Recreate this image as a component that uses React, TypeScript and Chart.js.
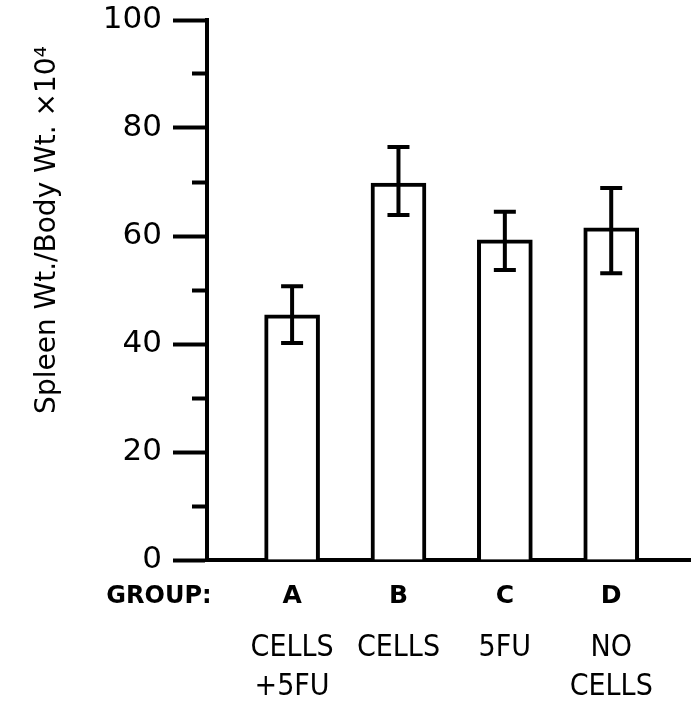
import React, { useEffect, useRef } from 'react';
import { Chart, registerables } from 'chart.js';

Chart.register(...registerables);

const groups = ['A', 'B', 'C', 'D'];
const treatments = [['CELLS', '+5FU'], ['CELLS'], ['5FU'], ['NO', 'CELLS']];
const means = [45.4, 69.8, 59.3, 61.5];
const errLow = [40.2, 63.9, 53.7, 53.1];
const errHigh = [50.7, 76.5, 64.5, 68.9];
const yMin = 0;
const yMax = 100;
const yStep = 10;
const yLabelStep = 20;
const groupLabel = 'GROUP:';
const yTitle = 'Spleen Wt./Body Wt. \u00d710\u2074';

const FONT = '"DejaVu Sans", sans-serif';
const FONT_COND = '"DejaVu Sans Condensed", "DejaVu Sans", sans-serif';

const errorBarPlugin = {
  id: 'errorBars',
  afterDatasetsDraw(chart: any) {
    const ctx = chart.ctx;
    const meta = chart.getDatasetMeta(0);
    const ys = chart.scales.y;
    ctx.save();
    ctx.strokeStyle = '#000';
    ctx.lineWidth = 4;
    ctx.lineCap = 'butt';
    meta.data.forEach((bar: any, i: number) => {
      const x = bar.x;
      const yl = ys.getPixelForValue(errLow[i]);
      const yh = ys.getPixelForValue(errHigh[i]);
      ctx.beginPath();
      ctx.moveTo(x, yl);
      ctx.lineTo(x, yh);
      ctx.moveTo(x - 11, yl);
      ctx.lineTo(x + 11, yl);
      ctx.moveTo(x - 11, yh);
      ctx.lineTo(x + 11, yh);
      ctx.stroke();
    });
    ctx.restore();
  },
};

const textPlugin = {
  id: 'extraText',
  afterDraw(chart: any) {
    const ctx = chart.ctx;
    const xs = chart.scales.x;
    const area = chart.chartArea;
    ctx.save();
    ctx.fillStyle = '#000';
    ctx.textAlign = 'center';
    ctx.textBaseline = 'middle';
    ctx.font = `bold 24px ${FONT}`;
    ctx.fillText(groupLabel, xs.left - 48, xs.top + 37);
    ctx.font = `28px ${FONT}`;
    ctx.translate(chart.scales.y.left + 48, (area.top + area.bottom) / 2 - 60);
    ctx.rotate(-Math.PI / 2);
    ctx.fillText(yTitle, 0, 0);
    ctx.restore();
  },
};

export default function App() {
  const ref = useRef<HTMLCanvasElement>(null);
  useEffect(() => {
    if (!ref.current) return;
    const positions = groups.map((_, i) => i + 1);
    const chart = new Chart(ref.current, {
      type: 'bar',
      data: {
        datasets: [
          {
            data: means.map((v, i) => ({ x: positions[i], y: v })),
            backgroundColor: '#fff',
            borderColor: '#000',
            borderWidth: 4,
            barThickness: 55,
          },
        ],
      },
      options: {
        animation: false,
        responsive: true,
        maintainAspectRatio: false,
        layout: { padding: { top: 20, left: 0, right: 0, bottom: 0 } },
        plugins: { legend: { display: false }, tooltip: { enabled: false } },
        scales: {
          x: {
            type: 'linear',
            position: 'bottom',
            offset: false,
            min: 0.2,
            max: 4.75,
            weight: 0,
            afterBuildTicks: (s: any) => {
              s.ticks = positions.map((v) => ({ value: v }));
            },
            afterFit: (s: any) => {
              s.height = 52;
            },
            grid: { display: true, offset: false, drawOnChartArea: false, drawTicks: false },
            border: { display: true, color: '#000', width: 4 },
            ticks: {
              autoSkip: false,
              maxRotation: 0,
              padding: 21,
              color: '#000',
              font: { family: FONT, size: 25, weight: 'bold', lineHeight: 1.2 },
              callback: (v: any) => groups[Math.round(v) - 1] ?? '',
            },
          },
          x2: {
            type: 'linear',
            position: 'bottom',
            axis: 'x',
            offset: false,
            min: 0.2,
            max: 4.75,
            weight: 1,
            afterBuildTicks: (s: any) => {
              s.ticks = positions.map((v) => ({ value: v }));
            },
            afterFit: (s: any) => {
              s.height = 97;
            },
            grid: { display: false, offset: false, drawTicks: false },
            border: { display: false },
            ticks: {
              autoSkip: false,
              maxRotation: 0,
              padding: 17,
              color: '#000',
              font: { family: FONT_COND, size: 30, lineHeight: 1.3 },
              callback: (v: any) => treatments[Math.round(v) - 1] ?? '',
            },
          },
          y: {
            min: yMin,
            max: yMax,
            afterFit: (s: any) => {
              s.width = 207;
              s.paddingTop = 0;
            },
            grid: {
              display: true,
              drawOnChartArea: false,
              drawTicks: true,
              tickLength: 34,
              tickWidth: 4,
              tickColor: '#000',
              tickBorderDash: (ctx: any) =>
                ctx.tick && ctx.tick.value % yLabelStep !== 0 ? [0, 19, 15, 100] : [],
            },
            border: { display: true, color: '#000', width: 4 },
            ticks: {
              stepSize: yStep,
              padding: 11,
              color: '#000',
              font: { family: FONT, size: 31 },
              callback: (v: any) => (v % yLabelStep === 0 ? String(v) : ''),
            },
          },
        },
      },
      plugins: [errorBarPlugin, textPlugin],
    } as any);
    return () => chart.destroy();
  }, []);
  return (
    <div style={{ position: 'fixed', left: 0, top: 0, width: 691, height: 709, background: '#fff' }}>
      <canvas ref={ref} />
    </div>
  );
}
